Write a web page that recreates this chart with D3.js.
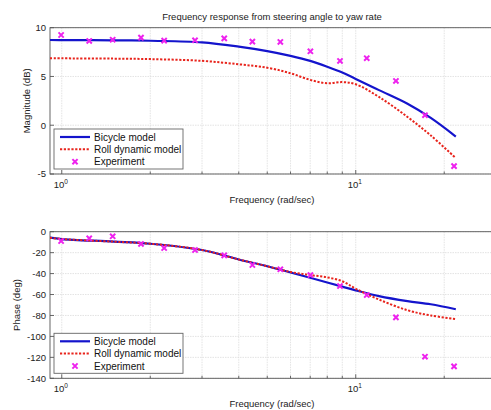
<!DOCTYPE html>
<html>
<head>
<meta charset="utf-8">
<script src="https://cdn.jsdelivr.net/npm/d3@7"></script>
<style>
  body { margin: 0; background: #fff; }
  svg { display: block; font-family: "Liberation Sans", Arial, sans-serif; }
  .tick-label { font-size: 9.5px; fill: #222; }
  .axis-label { font-size: 9.5px; fill: #222; }
  .legend-text { font-size: 10px; fill: #111; }
</style>
</head>
<body>
<div id="chart"></div>
<script>
// curve sample frequencies (rad/sec)
let freqs = [0.912, 1, 1.5, 2, 3, 4, 5, 6, 7, 8, 9, 10, 12, 15, 18, 21.9]
let bicycleMag = [8.74, 8.73, 8.71, 8.66, 8.5, 8.06, 7.6, 7.11, 6.6, 6.0, 5.4, 4.75, 3.6, 2.2, 0.75, -1.16]
let rollMag = [6.87, 6.86, 6.83, 6.78, 6.6, 6.25, 5.9, 5.33, 4.65, 4.3, 4.42, 4.2, 2.9, 0.85, -1.05, -3.37]
let bicyclePhase = [-5.7, -7.0, -9.5, -11.5, -17.5, -26.5, -33, -39, -44, -48.5, -52.5, -56, -61.5, -66.3, -69.3, -74.1]
let rollPhase = [-5.7, -7.0, -9.5, -11.5, -17.5, -26.5, -33, -38.5, -41.4, -43.6, -47.3, -54.5, -64.8, -75, -80, -83.4]

// experiment points
let expFreqs = [0.995, 1.24, 1.49, 1.86, 2.23, 2.84, 3.57, 4.45, 5.54, 7.01, 8.84, 10.9, 13.7, 17.2, 21.6]
let expMag = [9.25, 8.64, 8.77, 8.98, 8.67, 8.71, 8.91, 8.57, 8.54, 7.58, 6.59, 6.87, 4.54, 1.03, -4.19]
let expPhase = [-8.9, -6.3, -4.4, -11.7, -15.6, -17.5, -22.6, -31.8, -35.9, -41.4, -51.9, -60.5, -81.8, -119.4, -128.6]

let magTicks = [10, 5, 0, -5]
let phaseTicks = [0, -20, -40, -60, -80, -100, -120, -140]
let legendLabels = ["Bicycle model", "Roll dynamic model", "Experiment"]

let W = 491, H = 410
let svg = d3.select("#chart").append("svg").attr("width", W).attr("height", H)

let xScale = d3.scaleLog().domain([0.912, 30]).range([50, 496])
let minorX = []
for (let dec of [1, 10]) for (let m = 1; m <= 9; m++) minorX.push(m * dec)
minorX = minorX.filter(v => v >= 0.912 && v <= 30)

let blue = "#1414cc", red = "#e8241c", magenta = "#ee22ee"

function panel(top, bottom, yDomain, yTicks, yLabel, series, expVals) {
  let y = d3.scaleLinear().domain(yDomain).range([bottom, top])
  let g = svg.append("g")
  let x0 = xScale.range()[0], x1 = xScale.range()[1]

  // grid
  g.selectAll(".gx").data(minorX).enter().append("line")
    .attr("x1", d => xScale(d)).attr("x2", d => xScale(d))
    .attr("y1", top).attr("y2", bottom)
    .attr("stroke", "#dcdcdc").attr("stroke-width", 0.8).attr("stroke-dasharray", "1.5,1")
  g.selectAll(".gy").data(yTicks).enter().append("line")
    .attr("x1", x0).attr("x2", x1)
    .attr("y1", d => y(d)).attr("y2", d => y(d))
    .attr("stroke", "#dcdcdc").attr("stroke-width", 0.8).attr("stroke-dasharray", "1.5,1")

  // ticks inward
  g.selectAll(".tx").data(minorX).enter().append("line")
    .attr("x1", d => xScale(d)).attr("x2", d => xScale(d))
    .attr("y1", bottom).attr("y2", d => bottom - ([1, 10].includes(d) ? 4 : 2.5))
    .attr("stroke", "#444").attr("stroke-width", 0.8)
  g.selectAll(".ty").data(yTicks).enter().append("line")
    .attr("x1", x0).attr("x2", x0 + 4)
    .attr("y1", d => y(d)).attr("y2", d => y(d))
    .attr("stroke", "#444").attr("stroke-width", 0.8)

  // box
  g.append("rect").attr("x", x0).attr("y", top).attr("width", x1 - x0).attr("height", bottom - top)
    .attr("fill", "none").attr("stroke", "#555").attr("stroke-width", 0.9)

  // tick labels
  g.selectAll(".yl").data(yTicks).enter().append("text")
    .attr("class", "tick-label")
    .attr("x", x0 - 4).attr("y", d => y(d)).attr("dy", "0.35em")
    .attr("text-anchor", "end").text(d => d)
  for (let [v, e] of [[1, 0], [10, 1]]) {
    let t = g.append("text").attr("class", "tick-label")
      .attr("x", xScale(v) - 1).attr("y", bottom + 14).attr("text-anchor", "middle")
    t.append("tspan").text("10")
    t.append("tspan").attr("dy", -4).style("font-size", "6.5px").text(e)
  }

  // axis labels
  g.append("text").attr("class", "axis-label")
    .attr("x", 272).attr("y", bottom + 29).attr("text-anchor", "middle")
    .text("Frequency (rad/sec)")
  g.append("text").attr("class", "axis-label")
    .attr("transform", "translate(" + (yLabel === "Phase (deg)" ? 20 : 30) + "," + ((top + bottom) / 2) + ") rotate(-90)")
    .attr("text-anchor", "middle").text(yLabel)

  // curves
  let line = d3.line()
    .x(d => xScale(d[0])).y(d => y(d[1]))
    .curve(d3.curveCatmullRom.alpha(0.5))
  let clip = "clip" + Math.round(top)
  svg.append("clipPath").attr("id", clip).append("rect")
    .attr("x", x0).attr("y", top).attr("width", x1 - x0).attr("height", bottom - top)
  let cg = g.append("g").attr("clip-path", "url(#" + clip + ")")
  cg.append("path").datum(d3.zip(freqs, series[0]))
    .attr("d", line).attr("fill", "none").attr("stroke", blue).attr("stroke-width", 2.2)
  cg.append("path").datum(d3.zip(freqs, series[1]))
    .attr("d", line).attr("fill", "none").attr("stroke", red).attr("stroke-width", 2)
    .attr("stroke-dasharray", "2.2,1.6")

  // experiment markers
  let s = 2.6
  cg.selectAll(".mk").data(d3.zip(expFreqs, expVals)).enter().append("path")
    .attr("transform", d => "translate(" + xScale(d[0]) + "," + y(d[1]) + ")")
    .attr("d", "M" + -s + "," + -s + "L" + s + "," + s + "M" + -s + "," + s + "L" + s + "," + -s)
    .attr("stroke", magenta).attr("stroke-width", 2).attr("fill", "none")

  // legend
  let lx = 54, ly = bottom - 45, lw = 129, lh = 40
  let lg = g.append("g")
  lg.append("rect").attr("x", lx).attr("y", ly).attr("width", lw).attr("height", lh)
    .attr("fill", "#fff").attr("stroke", "#666").attr("stroke-width", 0.9)
  let rows = [ly + 8, ly + 20.3, ly + 32.7]
  lg.append("line").attr("x1", 60).attr("x2", 90).attr("y1", rows[0]).attr("y2", rows[0])
    .attr("stroke", blue).attr("stroke-width", 2.2)
  lg.append("line").attr("x1", 60).attr("x2", 90).attr("y1", rows[1]).attr("y2", rows[1])
    .attr("stroke", red).attr("stroke-width", 2).attr("stroke-dasharray", "2.2,1.6")
  lg.append("path").attr("transform", "translate(75," + rows[2] + ")")
    .attr("d", "M" + -s + "," + -s + "L" + s + "," + s + "M" + -s + "," + s + "L" + s + "," + -s)
    .attr("stroke", magenta).attr("stroke-width", 2)
  lg.selectAll(".lt").data(legendLabels).enter().append("text")
    .attr("class", "legend-text")
    .attr("x", 94).attr("y", (d, i) => rows[i]).attr("dy", "0.35em").text(d => d)
}

// title
svg.append("text").attr("class", "axis-label")
  .attr("x", 272).attr("y", 20).attr("text-anchor", "middle")
  .text("Frequency response from steering angle to yaw rate")

panel(27.7, 174, [-5, 10], magTicks, "Magnitude (dB)", [bicycleMag, rollMag], expMag)
panel(231.7, 378.3, [-140, 0], phaseTicks, "Phase (deg)", [bicyclePhase, rollPhase], expPhase)
</script>
</body>
</html>
